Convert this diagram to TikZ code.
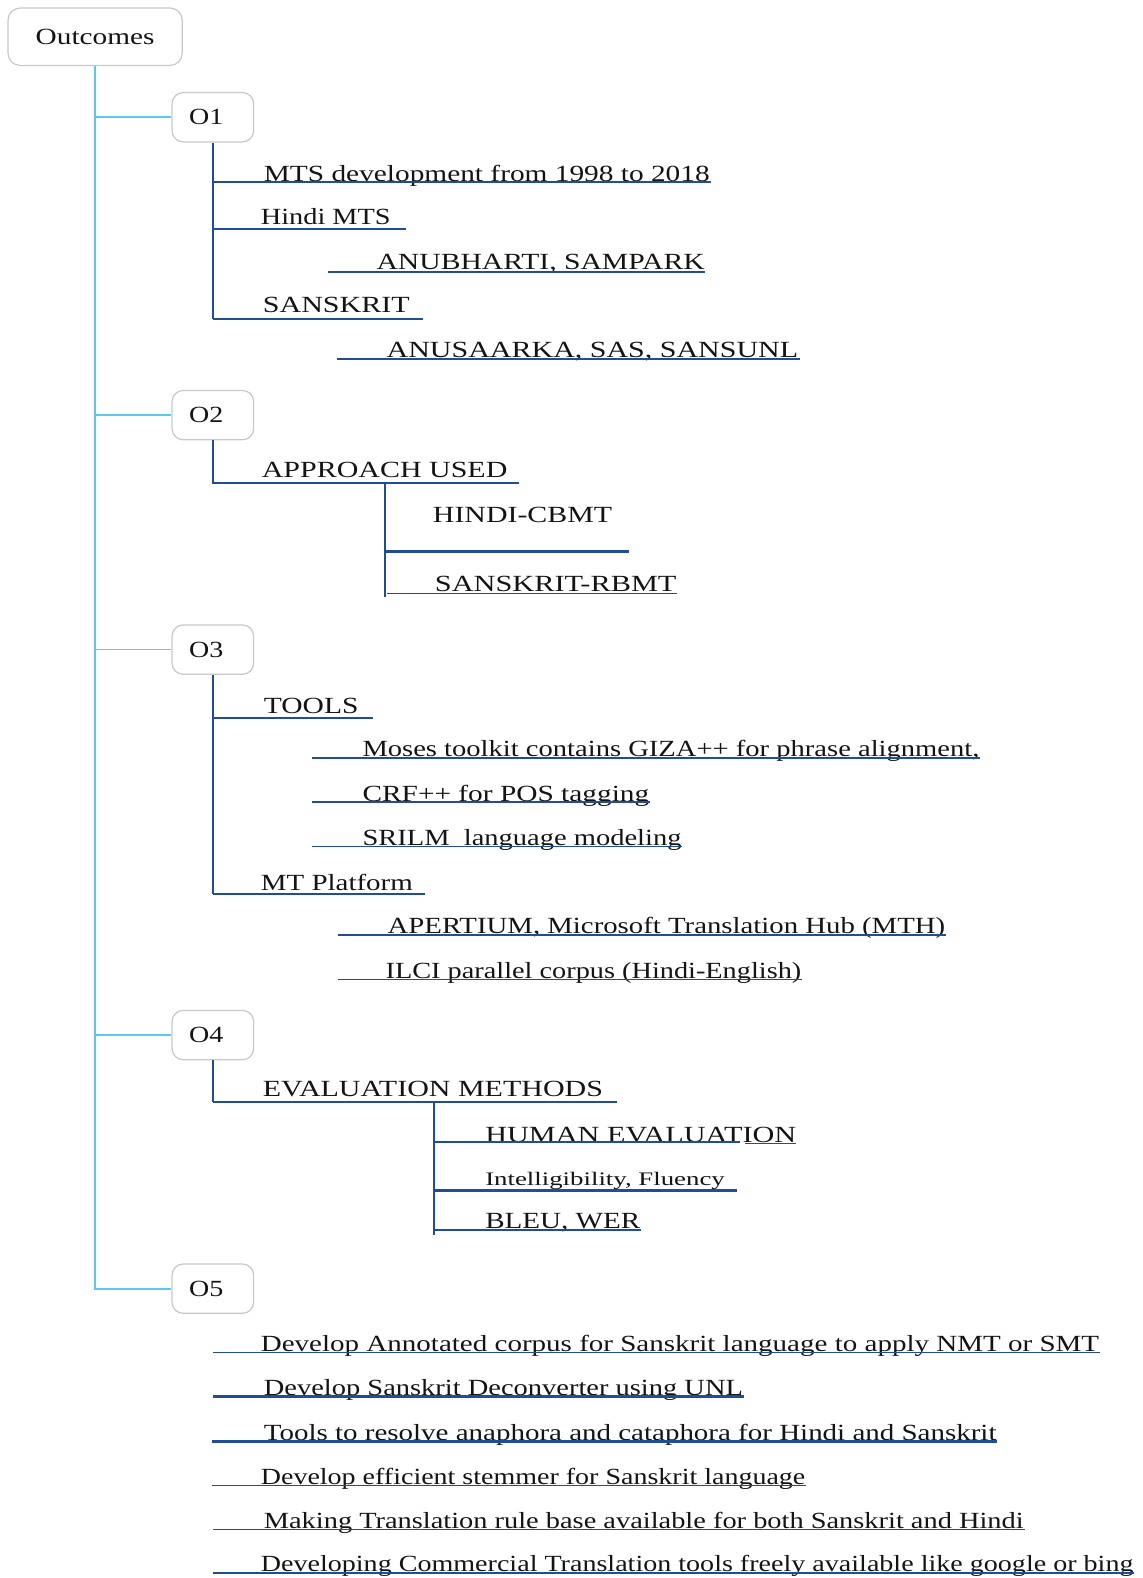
\documentclass[tikz,border=0pt]{standalone}
\usepackage{fontspec}
\setmainfont{Liberation Serif}
\usepackage{graphicx}
\begin{document}
\definecolor{branchblue}{RGB}{31,78,150}
\definecolor{trunkcyan}{RGB}{92,200,238}
\definecolor{boxgray}{RGB}{200,200,200}
\definecolor{ink}{RGB}{20,20,20}
\tikzset{
  bl/.style={draw=branchblue,line width=2pt},
  thinbl/.style={draw=branchblue,line width=1.4pt},
  thickbl/.style={draw=branchblue,line width=3pt},
  cy/.style={draw=trunkcyan,line width=1.7pt},
  obox/.style={draw=boxgray,line width=1.2pt,rounded corners=11pt,fill=white,
    minimum width=81pt,minimum height=49pt,text width=47pt,inner xsep=17pt,inner ysep=0pt,
    align=left,text=ink,font=\fontsize{23}{25}\selectfont},
  txt/.style={inner sep=0pt,text=ink,font=\fontsize{23}{25}\selectfont},
}
% text set to a given width at its natural height
\newcommand\leafnode[5]{\node[txt,anchor=base west] (#1) at (#2,#3) {\resizebox{#4pt}{\height}{#5}};}
% underline connector from (x0,y) to (x1,y)
\newcommand\uline[5]{\coordinate (#1-s) at (#2,#4); \coordinate (#1-e) at (#3,#4); \draw[#5] (#1-s) -- (#1-e);}
\begin{tikzpicture}[x=1pt,y=-1pt]
\useasboundingbox (0,0) rectangle (1135,1568);

% root and outcome boxes
\node[draw=boxgray,line width=1.2pt,rounded corners=12pt,minimum width=173pt,minimum height=57pt,
  inner sep=0pt,text=ink,font=\fontsize{23}{25}\selectfont] (root) at (94.5,36.5) {\resizebox{118pt}{\height}{Outcomes}};
\node[obox] (o1) at (211.5,116.5) {\resizebox{34pt}{\height}{O1}};
\node[obox] (o2) at (211.5,412.5) {\resizebox{34pt}{\height}{O2}};
\node[obox] (o3) at (211.5,645.5) {\resizebox{34pt}{\height}{O3}};
\node[obox] (o4) at (211.5,1028.5) {\resizebox{34pt}{\height}{O4}};
\node[obox] (o5) at (211.5,1280.5) {\resizebox{34pt}{\height}{O5}};

% trunk
\draw[cy] (root.south) |- (o5.west);
\foreach \o in {o1,o2,o3,o4} \draw[cy] (root.south |- \o.west) -- (\o.west);

% O1
\leafnode{m1}{262}{180}{443}{MTS development from 1998 to 2018}
\uline{m1}{211.5}{706}{181}{bl}
\leafnode{m2}{259}{223}{129}{Hindi MTS}
\uline{m2}{211.5}{403}{228}{bl}
\leafnode{m3}{374}{268}{326}{ANUBHARTI, SAMPARK}
\uline{m3}{326}{701}{270}{bl}
\leafnode{m4}{261}{311}{146}{SANSKRIT}
\uline{m4}{211.5}{420}{317}{bl}
\leafnode{m5}{384}{355}{409}{ANUSAARKA, SAS, SANSUNL}
\uline{m5}{335}{795}{357}{bl}
\draw[bl] (o1.south) -- (m4-s);

% O2
\leafnode{a1}{260}{474}{244}{APPROACH USED}
\uline{a1}{210.5}{516}{480}{bl}
\draw[bl] (o2.south) -- (o2.south |- a1-s);
\leafnode{a2}{430}{519}{178}{HINDI-CBMT}
\uline{a2}{383}{625}{548}{thickbl}
\leafnode{a3}{432}{588}{240}{SANSKRIT-RBMT}
\uline{a3}{385}{673}{590}{thinbl}
\coordinate (a-top) at (383,480);
\coordinate (a-bot) at (383,593);
\draw[bl] (a-top) -- (a-bot);

% O3
\leafnode{t1}{262}{709}{94}{TOOLS}
\uline{t1}{211.5}{371}{713}{bl}
\leafnode{t2}{360}{752}{613}{Moses toolkit contains GIZA++ for phrase alignment,}
\uline{t2}{310}{974}{753}{thinbl}
\leafnode{t3}{360}{796}{285}{CRF++ for POS tagging}
\uline{t3}{310}{646}{797}{thinbl}
\leafnode{t4}{360}{840}{317}{SRILM~~language modeling}
\uline{t4}{310}{678}{841}{thinbl}
\leafnode{t5}{259}{885}{151}{MT Platform}
\uline{t5}{211.5}{422}{888}{bl}
\leafnode{t6}{385}{928}{554}{APERTIUM, Microsoft Translation Hub (MTH)}
\uline{t6}{336}{940}{929}{thinbl}
\leafnode{t7}{383}{972}{413}{ILCI parallel corpus (Hindi-English)}
\uline{t7}{336}{797}{973}{thinbl}
\draw[bl] (o3.south) -- (t5-s);

% O4
\leafnode{e1}{261}{1090}{338}{EVALUATION METHODS}
\uline{e1}{211.5}{613}{1095}{bl}
\draw[bl] (o4.south) -- (e1-s);
\coordinate (e-top) at (431,1095);
\coordinate (e-bot) at (431,1227);
\draw[bl] (e-top) -- (e-bot);
\leafnode{e2}{482}{1135}{309}{HUMAN EVALUATION}
\uline{e2}{431}{735}{1135}{bl}
\uline{e2b}{740}{791}{1136}{thinbl}
\node[txt,font=\fontsize{19}{21}\selectfont,anchor=base west] (e3) at (482,1178) {\resizebox{238pt}{\height}{Intelligibility, Fluency}};
\uline{e3}{431}{732}{1183}{thickbl}
\leafnode{e4}{482}{1221}{154}{BLEU, WER}
\uline{e4}{431}{637}{1222}{thinbl}

% O5
\leafnode{f1}{259}{1343}{833}{Develop Annotated corpus for Sanskrit language to apply NMT or SMT}
\uline{f1}{212}{1093}{1344}{thinbl}
\leafnode{f2}{262}{1387}{476}{Develop Sanskrit Deconverter using UNL}
\uline{f2}{212}{739}{1388}{thickbl}
\leafnode{f3}{262}{1431}{728}{Tools to resolve anaphora and cataphora for Hindi and Sanskrit}
\uline{f3}{211}{991}{1432}{thickbl}
\leafnode{f4}{259}{1475}{541}{Develop efficient stemmer for Sanskrit language}
\uline{f4}{211}{801}{1476}{thinbl}
\leafnode{f5}{262}{1519}{755}{Making Translation rule base available for both Sanskrit and Hindi}
\uline{f5}{212}{1018}{1520}{thinbl}
\leafnode{f6}{259}{1562}{867}{Developing Commercial Translation tools freely available like google or bing}
\uline{f6}{212}{1127}{1563}{thinbl}
\end{tikzpicture}
\end{document}
